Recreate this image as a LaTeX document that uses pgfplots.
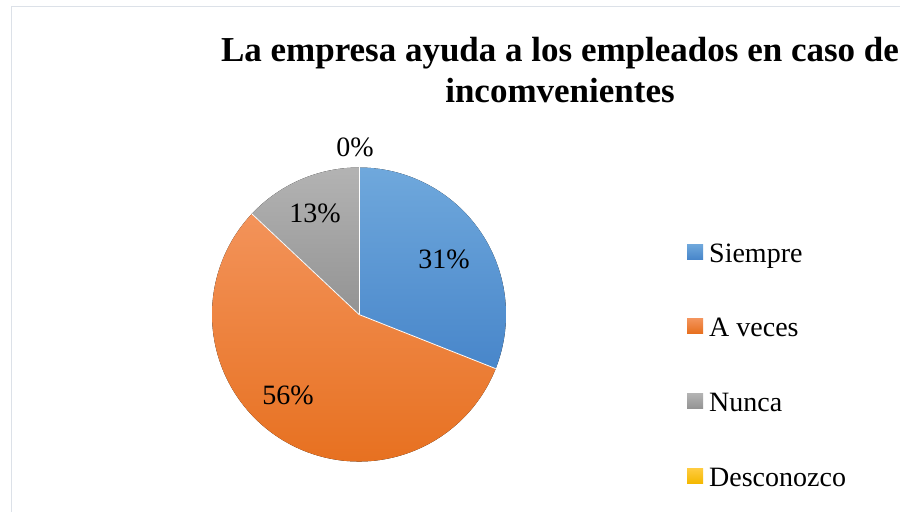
\documentclass[border=0pt]{standalone}
\usepackage{fontspec}
\setmainfont{Liberation Serif}
\usepackage{pgfplots}
\usepackage{pgfplotstable}
\pgfplotsset{compat=1.18}

\definecolor{blueT}{HTML}{6FA8DC}
\definecolor{blueB}{HTML}{4886CA}
\definecolor{orangeT}{HTML}{F3935A}
\definecolor{orangeB}{HTML}{E66E1C}
\definecolor{grayT}{HTML}{B3B3B3}
\definecolor{grayB}{HTML}{939393}
\definecolor{yellowT}{HTML}{FFCC40}
\definecolor{yellowB}{HTML}{F4B800}
\definecolor{frame}{HTML}{DCE1E8}

% porcentajes por respuesta
\pgfplotstableread{
value
31
56
13
0
}\piedata

\pgfplotstablegetelem{0}{value}\of\piedata \let\vA\pgfplotsretval
\pgfplotstablegetelem{1}{value}\of\piedata \let\vB\pgfplotsretval
\pgfplotstablegetelem{2}{value}\of\piedata \let\vC\pgfplotsretval
\pgfmathsetmacro\aO{90}
\pgfmathsetmacro\aA{90-3.6*\vA}
\pgfmathsetmacro\aB{\aA-3.6*\vB}
\pgfmathsetmacro\aC{\aB-3.6*\vC}

\newcommand\lbl{\fontsize{28}{34}\selectfont}
\newcommand\ttl{\fontsize{35}{41}\selectfont\bfseries}

\begin{document}
\begin{tikzpicture}
\useasboundingbox (0,0) rectangle (900pt,512pt);
\clip (0,0) rectangle (900pt,512pt);
\fill[white] (0,0) rectangle (900pt,512pt);
\draw[frame, line width=1.5pt] (11.5pt,0) -- (11.5pt,505.5pt) -- (901pt,505.5pt);
\begin{axis}[at={(0,0)}, anchor=south west, scale only axis,
    width=900pt, height=512pt, xmin=0, xmax=900, ymin=0, ymax=512,
    hide axis, clip=false,
    legend image code/.code={\fill[#1, draw=none] (0pt,-4pt) rectangle (16pt,11pt);},
    legend style={at={(axis cs:687,270)}, anchor=north west, draw=none, fill=none,
        inner sep=0pt, column sep=6pt, row sep=48.7pt,
        font=\lbl, nodes={inner sep=0pt, text height=20pt, text depth=6pt}},
    legend cell align=left]
\addlegendimage{top color=blueT, bottom color=blueB}
\addlegendentry{Siempre}
\addlegendimage{top color=orangeT, bottom color=orangeB}
\addlegendentry{A veces}
\addlegendimage{top color=grayT, bottom color=grayB}
\addlegendentry{Nunca}
\addlegendimage{top color=yellowT, bottom color=yellowB}
\addlegendentry{Desconozco}

\fill[top color=blueT, bottom color=blueB] (axis cs:359,197.5) -- ++(\aO:147pt)
    arc[start angle=\aO, end angle=\aA, radius=147pt] -- cycle;
\fill[top color=orangeT, bottom color=orangeB] (axis cs:359,197.5) -- ++(\aA:147pt)
    arc[start angle=\aA, end angle=\aB, radius=147pt] -- cycle;
\fill[top color=grayT, bottom color=grayB] (axis cs:359,197.5) -- ++(\aB:147pt)
    arc[start angle=\aB, end angle=\aC, radius=147pt] -- cycle;
\draw[white, line width=0.8pt] (axis cs:359,197.5) -- ++(\aO:147pt);
\draw[white, line width=0.8pt] (axis cs:359,197.5) -- ++(\aA:147pt);
\draw[white, line width=0.8pt] (axis cs:359,197.5) -- ++(\aB:147pt);

\node[anchor=base, font=\lbl, inner sep=0pt] at (axis cs:444,243) {\vA\%};
\node[anchor=base, font=\lbl, inner sep=0pt] at (axis cs:288,107) {\vB\%};
\node[anchor=base, font=\lbl, inner sep=0pt] at (axis cs:315,289) {\vC\%};
\node[anchor=base, font=\lbl, inner sep=0pt] at (axis cs:355,355) {0\%};

\node[anchor=base, font=\ttl, inner sep=0pt] at (axis cs:560,450) {La empresa ayuda a los empleados en caso de};
\node[anchor=base, font=\ttl, inner sep=0pt] at (axis cs:560,409) {incomvenientes};
\end{axis}
\end{tikzpicture}
\end{document}
